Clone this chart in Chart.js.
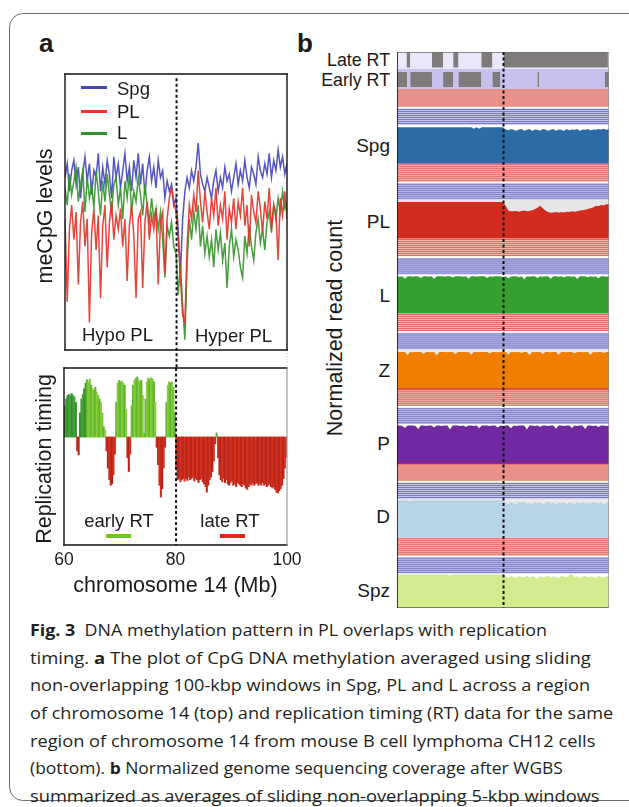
<!DOCTYPE html>
<html><head><meta charset="utf-8">
<script src="https://cdn.jsdelivr.net/npm/chart.js@4.4.1/dist/chart.umd.min.js"></script>
<style>
html,body{margin:0;padding:0;background:#fff;width:629px;height:807px;overflow:hidden;position:relative;font-family:"Liberation Sans",Arial,sans-serif;color:#1a1a1a}
.abs{position:absolute;white-space:nowrap;line-height:1}
canvas{position:absolute}
#frame{position:absolute;left:9px;top:13px;width:640px;height:786px;border:1.5px solid #6e6e6e;border-radius:14px}
.cap{position:absolute;left:30px;font-family:"Open Sans",sans-serif;font-size:16px;line-height:1;white-space:nowrap;transform-origin:0 50%;color:#231f20}
.cap b{font-weight:700}
.sw{position:absolute;height:3.5px}
</style></head><body>
<div id="frame"></div>
<canvas id="cMe" width="310" height="312" style="left:0;top:60px;width:310px;height:312px"></canvas>
<canvas id="cRt" width="310" height="190" style="left:0;top:360px;width:310px;height:190px"></canvas>
<canvas id="cB" width="212" height="556" style="left:397px;top:52px;width:212px;height:556px"></canvas>
<script>
// ================= DATA =================
// Panel a (top): meCpG levels, 100-kbp windows, sampled every 0.4 Mb from 60 Mb
const meStart = 60, meStep = 0.4;
const spg = [70,74,66,72,75,68,73,64,71,76, 69,74,65,72,70,77,66,73,68,75, 71,64,76,70,74,67,72,77,69,73,
  66,75,70,77,68,74,65,72,76,69, 73,67,75,70,72,64,69,66,68,62, 64,55,42,58,66,70,67,72,69,73,
  80,71,68,66,70,67,64,69,72,66, 70,67,73,69,71,66,70,74,68,72, 69,75,70,67,73,71,68,76,72,70,
  74,71,77,70,75,72,78,73,76,71,74];
const pl = [58,34,55,62,52,60,39,57,63,50, 58,28,54,61,49,59,35,56,62,44, 57,63,52,59,55,61,50,58,40,56,
  62,53,35,58,60,38,57,63,52,59, 55,61,39,57,60,42,58,64,67,63, 60,52,41,30,28,50,62,58,65,60,
  72,63,57,66,60,55,64,59,67,56, 62,58,66,52,61,57,64,55,63,59, 67,56,62,50,65,60,57,66,61,54,
  63,58,67,55,62,60,46,64,59,66,58];
const lL = [67,62,71,65,69,73,63,68,72,60, 70,64,68,61,72,66,59,69,63,71, 65,60,68,70,62,67,58,69,64,71,
  60,66,63,70,65,59,68,62,57,64, 58,61,55,60,52,41,56,53,57,50, 48,36,45,33,23,45,58,52,60,55,
  62,50,56,48,53,47,52,44,55,49, 54,46,51,38,50,55,47,52,49,44, 41,53,48,56,50,46,54,58,51,55,
  49,57,60,54,62,58,64,60,66,61,63];
const meSeries = ['Spg','PL','L'];

// Panel a (bottom): replication timing, 0.25-Mb bins from 60 Mb
const rtStart = 60, rtStep = 0.25;
const rt = [0.45,0.55,0.6,0.62,0.6,0.63,0.6,0.58,0.5, -0.2,-0.26,
  0.35,0.55,0.62,0.7,0.78,0.83,0.8,0.84,0.75,0.7,0.68,0.72,0.65,0.6,0.55,0.5,0.35,0.15,0.1,
  -0.2,-0.45,-0.62,-0.7,-0.68,-0.55,-0.25,
  0.5,0.78,0.82,0.8,0.81,0.78,0.75,0.4,
  -0.3,-0.5,-0.25,
  0.45,0.75,0.82,0.85,0.87,0.83,0.8,0.82,0.6,
  0.05,
  0.55,0.8,0.85,0.83,0.86,0.84,0.8,0.5,
  -0.15,-0.4,-0.7,-0.87,-0.75,-0.45,-0.15,
  0.5,0.75,0.8,0.78,0.8,0.72,0.35,
  -0.45,-0.62,-0.6,-0.65,-0.62,-0.6,-0.64,-0.6,-0.63,-0.58,
  -0.62,-0.6,-0.58,-0.64,-0.6,-0.62,-0.66,-0.62,-0.6,-0.65,
  -0.68,-0.72,-0.8,-0.7,-0.62,-0.58,-0.5,-0.35,-0.1,0.06,
  -0.3,-0.55,-0.62,-0.65,-0.6,-0.66,-0.62,-0.68,-0.7,-0.66,
  -0.64,-0.7,-0.68,-0.72,-0.66,-0.68,-0.7,-0.72,-0.68,-0.7,
  -0.74,-0.76,-0.72,-0.68,-0.7,-0.67,-0.7,-0.68,-0.66,-0.7,
  -0.68,-0.7,-0.66,-0.7,-0.68,-0.72,-0.7,-0.68,-0.72,-0.74,
  -0.72,-0.76,-0.8,-0.81,-0.78,-0.75,-0.7,-0.6,-0.45,-0.3];
const xTicks = [60, 80, 100];
const boundaryMb = 80.1;

// Panel b: RT domains (Mb) and normalized coverage (% of track height), 0.5-Mb steps from 60 Mb
const lateRT = [[61.8,62.5],[66.6,68.7],[70.6,71.6],[75.9,78.0],[80.1,99.8]];
const earlyRT = [[60.0,61.9],[62.5,66.6],[68.7,70.6],[71.6,75.9],[78.0,79.5],[86.5,86.8],[99.2,100]];
const covStart = 60, covStep = 0.5;
const covSpg = [94,94,94,94,94,94,94,94,94,94, 94,94,94,94,94,94,94,94,94,94, 94,94,94,94,94,94,94,94,94,90,
  94,90,94,94,94,94,94,94,94,94, 94,
  88,86,89,87,84,88,89,85,87,89, 84,88,87,85,89,88,84,87,89,85, 88,87,84,89,86,88,87,89,84,88, 87,89,86,88,87,89,88,90,87,89];
const covPL = [94,94,94,94,94,94,94,94,94,94, 94,94,94,94,94,94,94,94,94,94, 94,94,94,94,94,94,94,94,94,94,
  94,94,94,94,94,94,94,94,94,94, 94,
  84,72,70,70,71,69,71,72,70,71, 73,75,79,84,78,72,68,66,67,68, 66,68,67,69,68,70,69,70,72,73, 74,76,78,80,84,83,86,85,88,89];
const covL = [95,94,95,89,95,95,94,95,95,91, 95,95,94,95,88,95,95,95,94,95, 95,92,95,95,95,94,95,89,95,95,
  94,95,95,95,91,95,94,95,95,95, 93,
  95,90,94,95,95,93,95,87,95,94, 95,95,91,95,94,95,95,89,95,95, 94,95,92,95,95,94,95,88,95,95, 95,93,95,94,95,90,95,95,94,95];
const covZ = [93,92,93,93,85,93,92,93,93,93, 88,93,93,92,93,84,93,93,93,92, 93,93,87,93,93,93,92,93,86,93,
  93,92,93,93,93,89,93,93,92,93, 93,
  93,86,93,92,93,93,90,93,93,85, 93,92,93,93,88,93,93,92,93,93, 86,93,93,92,93,93,89,93,93,92, 93,93,85,93,92,93,93,90,93,93];
const covP = [96,96,95,90,96,96,96,95,87,96, 96,95,96,96,91,96,96,95,96,96, 86,96,96,96,95,96,92,96,96,95,
  96,89,96,96,96,95,96,96,91,96, 95,
  96,96,89,96,95,96,96,96,86,96, 96,95,96,92,96,96,95,96,96,88, 96,96,95,96,96,90,96,95,96,96, 87,96,96,95,96,92,96,96,95,96];
const covD = [96,96,96,96,96,94,96,96,96,96, 96,96,96,96,96,96,96,96,96,96, 96,96,96,96,96,96,96,96,96,96,
  96,96,96,96,96,96,96,96,96,96, 96,
  90,86,92,88,85,91,89,93,87,90, 85,92,88,91,86,89,93,87,90,84, 91,88,92,86,90,89,85,92,88,91, 87,90,86,92,89,88,91,85,90,92];
const covSpz = [98,98,98,98,98,98,98,98,98,98, 98,98,98,98,98,98,98,98,98,98, 95,98,98,98,98,98,98,98,98,98,
  98,98,98,98,98,98,98,98,98,98, 98,
  93,89,95,91,88,94,92,90,96,89, 93,91,87,94,90,92,95,88,93,91, 89,94,92,90,96,100,91,93,89,92, 95,90,93,91,88,94,92,90,93,91];
const trackNames = ['Spg','PL','L','Z','P','D','Spz'];
const trackCov = [covSpg, covPL, covL, covZ, covP, covD, covSpz];

// ================= STYLES =================
const meColors = {Spg:'rgba(70,70,190,0.92)', PL:'rgba(226,54,42,0.92)', L:'rgba(52,150,42,0.92)'};
const trackColors = ['#2b6ca7','#d32b1d','#35a02d','#f07e00','#7029a0','#b6d4e4','#d3eb8d'];
const trackBg = ['#ffffff','#e6e6e6','#ffffff','#e8e8e8','#ffffff','#e8e8e8','#ffffff'];

Chart.defaults.animation = false;
const baseOpts = {responsive:false, devicePixelRatio:1, animation:false, events:[],
  plugins:{legend:{display:false}, tooltip:{enabled:false}}};

// ================= PANEL a, top =================
const toPts = (arr, s, st) => arr.map((v,i)=>({x: s + st*i, y: v}));
const boxPlugin = (sides) => ({id:'box', afterDraw(c){
  const {left,top,right,bottom} = c.chartArea, ctx = c.ctx;
  ctx.save(); ctx.lineCap='square';
  sides.forEach(([side,color,w])=>{
    ctx.strokeStyle=color; ctx.lineWidth=w; ctx.beginPath();
    if(side==='l'){ctx.moveTo(left,top);ctx.lineTo(left,bottom);}
    if(side==='r'){ctx.moveTo(right,top);ctx.lineTo(right,bottom);}
    if(side==='t'){ctx.moveTo(left,top);ctx.lineTo(right,top);}
    if(side==='b'){ctx.moveTo(left,bottom);ctx.lineTo(right,bottom);}
    ctx.stroke();
  });
  ctx.restore();
}});

const meChart = new Chart(document.getElementById('cMe'), {
  type:'line',
  data:{datasets:[
    {label:'Spg', data:toPts(spg,meStart,meStep), borderColor:meColors.Spg, borderWidth:1.5, pointRadius:0, tension:0, order:3},
    {label:'PL', data:toPts(pl,meStart,meStep), borderColor:meColors.PL, borderWidth:1.5, pointRadius:0, tension:0, order:1},
    {label:'L', data:toPts(lL,meStart,meStep), borderColor:meColors.L, borderWidth:1.5, pointRadius:0, tension:0, order:2},
    {label:'boundary', data:[{x:boundaryMb,y:98.8},{x:boundaryMb,y:14.6}], borderColor:'#111', borderWidth:2, borderDash:[3,2.5], pointRadius:0, clip:false, order:0},
    {label:'edge', data:[{x:100,y:20},{x:100,y:14.6}], borderColor:'#bbb', borderWidth:1, borderDash:[1,2], pointRadius:0, clip:false, order:0}
  ]},
  options:{...baseOpts,
    layout:{padding:{left:65,top:14,right:23,bottom:22}},
    scales:{x:{type:'linear',min:60,max:100,display:false}, y:{type:'linear',min:20,max:100,display:false}}},
  plugins:[boxPlugin([['l','#111',1.4],['r','#111',1.4],['t','#111',1.4],['b','#111',1.4]])]
});

// ================= PANEL a, bottom =================
const rtColors = rt.map((v,i)=>{
  const x = rtStart + rtStep*(i+0.5);
  if (v >= 0) {
    const sh = x < 64 ? ['#3d9a34','#4aa63a','#358f2f'] : ['#74c431','#5fb22b','#86cf3a'];
    return sh[i%3];
  }
  return ['#c8291d','#b3231a','#d5331f'][i%3];
});
const rtChart = new Chart(document.getElementById('cRt'), {
  type:'bar',
  data:{datasets:[
    {type:'bar', label:'RT', data:rt.map((v,i)=>({x: rtStart + rtStep*(i+0.5), y:v})), backgroundColor:rtColors,
      borderWidth:0, barPercentage:1, categoryPercentage:1, order:2},
    {type:'line', label:'boundary', data:[{x:boundaryMb,y:1.0},{x:boundaryMb,y:-1.565}], borderColor:'#111', borderWidth:2, borderDash:[3,2.5], pointRadius:0, order:0}
  ]},
  options:{...baseOpts,
    layout:{padding:{left:64,top:8,right:23,bottom:5}},
    scales:{x:{type:'linear',min:60,max:100,offset:false,display:false}, y:{type:'linear',min:-1.565,max:1.0,display:false}}},
  plugins:[boxPlugin([['l','#111',1.4],['t','#111',1.4],['b','#111',1.4],['r','#9a9a9a',1.2]])]
});

// ================= PANEL b =================
const B_H = 556, R0 = 37, CYC = 74.8;
const rect = (x0,x1,y0,y1,color,order)=>({type:'line', data:[{x:x0,y:y0},{x:x1,y:y0}], fill:{value:y1},
  backgroundColor:color, borderColor:'transparent', borderWidth:0, pointRadius:0, order});
const stripes = (y0,y1,color,width,order)=>{
  const d=[]; for(let y=y0+1; y<y1; y+=2){ d.push({x:60,y},{x:100,y},{x:100,y:null}); }
  return {type:'line', data:d, borderColor:color, borderWidth:width, pointRadius:0, spanGaps:false, fill:false, order};
};
const bSets = [];
bSets.push(rect(60,100,0,17,'#e9e7f8',100));
bSets.push(rect(60,100,17,37,'#c8c0ed',100));
lateRT.forEach(([s,e])=>bSets.push(rect(s,e,0.5,15.5,'#7f7b7b',90)));
earlyRT.forEach(([s,e])=>bSets.push(rect(s,e,20,35,'#7f7b7b',90)));
trackCov.forEach((cov,k)=>{
  const y0 = R0 + k*CYC;
  bSets.push(rect(60,100,y0,y0+17.5,'#f5c4bd',100));
  bSets.push(stripes(y0,y0+17.5,'#db5d57',1,80));
  if (k===4 || k===5) bSets.push({type:'line', data:[{x:60,y:y0+0.6},{x:100,y:y0+0.6}], borderColor:'#d2281c', borderWidth:1.3, pointRadius:0, order:79});
  bSets.push(rect(60,100,y0+19.5,y0+35.8,'#c3c3eb',100));
  bSets.push(stripes(y0+19.5,y0+35.8,'#7878c6',1,80));
  const tTop = y0+35.8, tBot = y0+CYC, h = tBot - tTop;
  bSets.push(rect(60,100,tTop,tBot,trackBg[k],100));
  bSets.push({type:'line', label:trackNames[k], data:cov.map((v,i)=>({x:covStart+covStep*i, y:tBot - v/100*h})),
    fill:{value:tBot}, backgroundColor:trackColors[k], borderColor:'transparent', borderWidth:0, pointRadius:0, tension:0, order:50});
});
bSets.push({type:'line', label:'boundary', data:[{x:boundaryMb,y:0},{x:boundaryMb,y:B_H}], borderColor:'#111', borderWidth:2, borderDash:[3,2.5], pointRadius:0, order:0});
const bChart = new Chart(document.getElementById('cB'), {
  type:'line',
  data:{datasets:bSets},
  options:{...baseOpts, layout:{padding:0},
    scales:{x:{type:'linear',min:60,max:100,display:false}, y:{type:'linear',min:0,max:B_H,reverse:true,display:false}}},
  plugins:[boxPlugin([['l','#111',1.6],['t','#333',1],['b','#222',1.2],['r','#8a8a8a',1.2]])]
});

// ================= TEXT =================
function textAt(html, x, baseline, fs, anchor, extra){
  const d=document.createElement('div'); d.className='abs';
  d.style.fontSize=fs+'px'; d.style.top=(baseline-0.8465*fs)+'px';
  if(anchor==='right'){ d.style.right=(629-x)+'px'; }
  else { d.style.left=x+'px'; if(anchor==='center') d.style.transform='translateX(-50%)'; }
  if(extra) Object.assign(d.style, extra);
  d.innerHTML=html; document.body.appendChild(d); return d;
}
function vText(html, baselineX, cy, fs){
  const d=document.createElement('div'); d.className='abs';
  d.style.fontSize=fs+'px'; d.style.left=(baselineX-0.3465*fs)+'px'; d.style.top=cy+'px';
  d.style.transform='translate(-50%,-50%) rotate(-90deg)';
  d.innerHTML=html; document.body.appendChild(d); return d;
}
textAt('a', 39, 52, 26, 'left', {fontWeight:'700'});
textAt('b', 297, 52, 26, 'left', {fontWeight:'700'});
// legend
const legY = [87.5, 111.5, 133.5], legBase = [96, 119, 140];
meSeries.forEach((n,i)=>{
  const s=document.createElement('div'); s.className='sw';
  s.style.left='81px'; s.style.width='26px'; s.style.top=(legY[i]-1.75)+'px';
  s.style.background=['#4646b8','#e2362a','#2f922b'][i]; document.body.appendChild(s);
  textAt(n, 117, legBase[i], 18.5, 'left');
});
textAt('Hypo PL', 82, 342, 18.5, 'left');
textAt('Hyper PL', 195, 343, 18.5, 'left');
vText('meCpG levels', 53.3, 215.5, 21.5);
vText('Replication timing', 52.7, 458.7, 21.5);
textAt('early RT', 119, 528, 18.5, 'center');
textAt('late RT', 230, 528, 18.5, 'center');
const eb=document.createElement('div'); eb.className='sw'; Object.assign(eb.style,{left:'106px',width:'25px',top:'533.5px',height:'4.5px',background:'#72c41f'}); document.body.appendChild(eb);
const lb=document.createElement('div'); lb.className='sw'; Object.assign(lb.style,{left:'220px',width:'25px',top:'533.5px',height:'4.5px',background:'#e2261c'}); document.body.appendChild(lb);
const rc = document.getElementById('cRt');
xTicks.forEach(t=>{ textAt(String(t), rc.offsetLeft + rtChart.scales.x.getPixelForValue(t), 566, 17.5, 'center'); });
textAt('chromosome 14 (Mb)', 175.5, 593.5, 21.5, 'center');
// panel b labels
textAt('Late RT', 390, 66.7, 17.8, 'right');
textAt('Early RT', 390, 86.7, 17.8, 'right');
const labBase = [152, 228, 302, 377, 450, 523, 597];
trackNames.forEach((n,i)=>textAt(n, 390, labBase[i], 19, 'right'));
vText('Normalized read count', 343, 327.5, 21.5);

// caption
const capLines = [
  ['<b>Fig. 3</b>&nbsp; DNA methylation pattern in PL overlaps with replication', 547],
  ['timing. <b>a</b> The plot of CpG DNA methylation averaged using sliding', 591],
  ['non-overlapping 100-kbp windows in Spg, PL and L across a region', 590],
  ['of chromosome 14 (top) and replication timing (RT) data for the same', 613],
  ['region of chromosome 14 from mouse B cell lymphoma CH12 cells', 595],
  ['(bottom). <b>b</b> Normalized genome sequencing coverage after WGBS', 563],
  ['summarized as averages of sliding non-overlapping 5-kbp windows', 600]
];
capLines.forEach(([h,endX],k)=>{
  const d=document.createElement('div'); d.className='cap'; d.innerHTML=h;
  const base = 636 + 27.7*k;
  d.style.top=(base-14.2)+'px'; document.body.appendChild(d);
  const w=d.offsetWidth; d.style.transform='scaleX('+((endX-30)/w).toFixed(4)+')';
});
</script>
</body></html>
